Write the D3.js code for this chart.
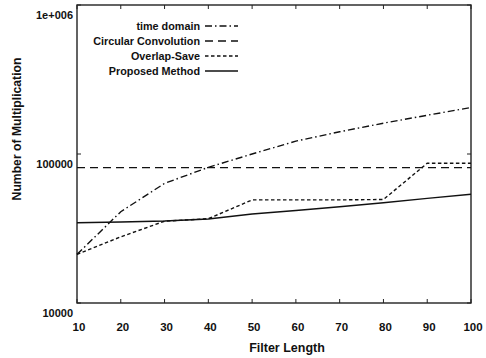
<!DOCTYPE html>
<html>
<head>
<meta charset="utf-8">
<script src="https://cdn.jsdelivr.net/npm/d3@7"></script>
<style>
  body { margin: 0; background: #fff; }
  text { font-family: "Liberation Sans", Arial, sans-serif; font-weight: bold; fill: #111; }
</style>
</head>
<body>
<div id="chart"></div>
<script>
var filterLengths = [10, 20, 30, 40, 50, 60, 70, 80, 90, 100];
var timeDomain = [21200, 41000, 63500, 81400, 100000, 122000, 141000, 161000, 182000, 205000];
var circularConv = [81000, 81000, 81000, 81000, 81000, 81000, 81000, 81000, 81000, 81000];
var overlapSave = [21200, 27800, 35400, 36800, 49200, 49200, 49200, 49500, 86700, 86700];
var proposed = [34600, 35000, 35500, 36600, 39600, 41800, 44300, 47100, 50400, 53700];

var xTicks = [10, 20, 30, 40, 50, 60, 70, 80, 90, 100];
var yTicks = [10000, 100000, 1000000];
var yTickLabels = ["10000", "100000", "1e+006"];

var series = [
    { name: "time domain", values: timeDomain, dash: "7,3,1.5,3" },
    { name: "Circular Convolution", values: circularConv, dash: "8,5" },
    { name: "Overlap-Save", values: overlapSave, dash: "3.5,2.5" },
    { name: "Proposed Method", values: proposed, dash: null }
];

var width = 486, height = 358;
var margin = { left: 77, right: 15, top: 5, bottom: 55 };

var svg = d3.select("#chart")
    .append("svg")
    .attr("width", width)
    .attr("height", height);

var x = d3.scaleLinear()
    .domain([10, 100])
    .range([margin.left, width - margin.right]);

var y = d3.scaleLog()
    .domain([10000, 1000000])
    .range([height - margin.bottom, margin.top]);

// ticks (inward, both sides)
var ticksG = svg.append("g").attr("stroke", "#222").attr("stroke-width", 1);
xTicks.forEach(function (t) {
    ticksG.append("line").attr("x1", x(t)).attr("x2", x(t))
        .attr("y1", y.range()[0]).attr("y2", y.range()[0] - 4);
    ticksG.append("line").attr("x1", x(t)).attr("x2", x(t))
        .attr("y1", y.range()[1]).attr("y2", y.range()[1] + 4);
});
yTicks.forEach(function (t) {
    ticksG.append("line").attr("x1", x.range()[0]).attr("x2", x.range()[0] + 4)
        .attr("y1", y(t)).attr("y2", y(t));
    ticksG.append("line").attr("x1", x.range()[1]).attr("x2", x.range()[1] - 4)
        .attr("y1", y(t)).attr("y2", y(t));
});

// frame
svg.append("rect")
    .attr("x", x.range()[0])
    .attr("y", y.range()[1])
    .attr("width", x.range()[1] - x.range()[0])
    .attr("height", y.range()[0] - y.range()[1])
    .attr("fill", "none")
    .attr("stroke", "#222")
    .attr("stroke-width", 1.4);

// tick labels
svg.append("g").selectAll("text")
    .data(xTicks)
    .enter().append("text")
    .attr("x", function (d) { return x(d) + 2; })
    .attr("y", 331)
    .attr("text-anchor", "middle")
    .attr("font-size", "11.5px")
    .text(function (d) { return d; });

svg.append("g").selectAll("text")
    .data(yTicks)
    .enter().append("text")
    .attr("x", 73)
    .attr("y", function (d) { return y(d) + 14; })
    .attr("text-anchor", "end")
    .attr("font-size", "11px")
    .text(function (d, i) { return yTickLabels[i]; });

// axis titles
svg.append("text")
    .attr("x", 287)
    .attr("y", 352)
    .attr("text-anchor", "middle")
    .attr("font-size", "12.5px")
    .text("Filter Length");

svg.append("text")
    .attr("transform", "translate(21,129) rotate(-90)")
    .attr("text-anchor", "middle")
    .attr("font-size", "12.2px")
    .text("Number of Multiplication");

// lines
var line = d3.line()
    .x(function (d, i) { return x(filterLengths[i]); })
    .y(function (d) { return y(d); });

svg.append("g").selectAll("path")
    .data(series)
    .enter().append("path")
    .attr("d", function (d) { return line(d.values); })
    .attr("fill", "none")
    .attr("stroke", "#111")
    .attr("stroke-width", 1.4)
    .attr("stroke-dasharray", function (d) { return d.dash; });

// legend
var legend = svg.append("g").selectAll("g")
    .data(series)
    .enter().append("g")
    .attr("transform", function (d, i) { return "translate(0," + (26 + i * 15) + ")"; });

legend.append("text")
    .attr("x", 200)
    .attr("y", 4)
    .attr("text-anchor", "end")
    .attr("font-size", "10.8px")
    .text(function (d) { return d.name; });

legend.append("line")
    .attr("x1", 205)
    .attr("x2", 238)
    .attr("y1", 0)
    .attr("y2", 0)
    .attr("stroke", "#111")
    .attr("stroke-width", 1.4)
    .attr("stroke-dasharray", function (d) { return d.dash; });
</script>
</body>
</html>
